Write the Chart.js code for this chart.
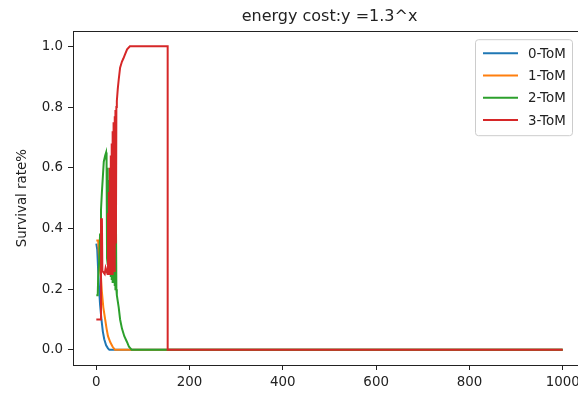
<!DOCTYPE html>
<html>
<head>
<meta charset="utf-8">
<title>energy cost</title>
<script src="https://cdn.jsdelivr.net/npm/chart.js@4/dist/chart.umd.min.js"></script>
<style>
    html, body { margin: 0; padding: 0; background: #fff; overflow: hidden; }
    #wrap { width: 578px; height: 393px; overflow: hidden; }
</style>
</head>
<body>
<div id="wrap"><canvas id="chart" width="600" height="393"></canvas></div>
<script>
// ==================== Daten ====================

const seriesLabels = ['0-ToM', '1-ToM', '2-ToM', '3-ToM'];

const tom0X = [0, 2, 4, 6, 8, 11, 14, 17, 21, 25, 28, 1000];
const tom0Y = [0.35, 0.33, 0.26, 0.2, 0.15, 0.1, 0.06, 0.035, 0.015, 0.005, 0, 0];

const tom1X = [0, 4, 6, 8, 10, 12, 15, 19, 22, 25, 30, 35, 40, 1000];
const tom1Y = [0.36, 0.36, 0.3, 0.26, 0.24, 0.19, 0.14, 0.1, 0.07, 0.045, 0.025, 0.01, 0, 0];

const tom2X = [0, 3, 4, 6, 8, 10, 12, 14, 16, 19, 21,
    22, 23, 24, 25, 26, 27, 28, 29, 30, 31, 32, 33, 34, 35, 36, 37, 38, 39, 40, 41, 42, 43, 44,
    48, 51, 55, 60, 66, 70, 76, 1000];
const tom2Y = [0.18, 0.18, 0.24, 0.29, 0.38, 0.46, 0.52, 0.57, 0.62, 0.64, 0.65,
    0.62, 0.3, 0.6, 0.28, 0.56, 0.27, 0.53, 0.25, 0.5, 0.24, 0.49, 0.23, 0.49, 0.22, 0.48, 0.22, 0.48, 0.21, 0.47, 0.2, 0.45, 0.2, 0.18,
    0.14, 0.1, 0.07, 0.045, 0.025, 0.01, 0, 0];

const tom3X = [0, 10, 10, 12, 13, 18, 20, 24,
    25, 26, 27, 28, 29, 30, 31, 32, 33, 34, 35, 36, 37, 38, 39, 40, 41, 42, 43, 44,
    46, 48, 51, 55, 58, 62, 66, 72, 153, 153, 1000];
const tom3Y = [0.1, 0.1, 0.43, 0.43, 0.26, 0.25, 0.27, 0.25,
    0.45, 0.25, 0.52, 0.26, 0.6, 0.25, 0.64, 0.27, 0.68, 0.25, 0.72, 0.28, 0.75, 0.26, 0.77, 0.3, 0.79, 0.35, 0.8, 0.82,
    0.86, 0.89, 0.93, 0.95, 0.96, 0.975, 0.99, 1.0, 1.0, 0, 0];

const xTicks = [0, 200, 400, 600, 800, 1000];
const yTicks = [0, 0.2, 0.4, 0.6, 0.8, 1.0];

// Farben (matplotlib tab10)
const COLORS = ['#1f77b4', '#ff7f0e', '#2ca02c', '#d62728'];
const AXIS_COLOR = '#222222';
const FONT = 'DejaVu Sans';

// ==================== Hilfsfunktionen ====================

function toPoints(xs, ys) {
    return xs.map((x, i) => ({ x: x, y: ys[i] }));
}

function buildDatasets() {
    const all = [[tom0X, tom0Y], [tom1X, tom1Y], [tom2X, tom2Y], [tom3X, tom3Y]];
    return all.map(([xs, ys], i) => ({
        label: seriesLabels[i],
        data: toPoints(xs, ys),
        borderColor: COLORS[i],
        backgroundColor: COLORS[i],
        borderWidth: 2,
        pointRadius: 0,
        fill: false,
        tension: 0,
        order: all.length - 1 - i   // letzte Serie oben
    }));
}

// Rahmen um den Plotbereich (alle vier Seiten wie in matplotlib)
const framePlugin = {
    id: 'frame',
    afterDatasetsDraw(chart) {
        const { ctx, chartArea: a } = chart;
        ctx.save();
        ctx.strokeStyle = AXIS_COLOR;
        ctx.lineWidth = 1;
        ctx.strokeRect(Math.round(a.left) + 0.5, Math.round(a.top) + 0.5,
            Math.round(a.right - a.left), Math.round(a.bottom - a.top));
        ctx.restore();
    }
};

// Legende oben rechts im Plotbereich
const legendPlugin = {
    id: 'boxLegend',
    afterDraw(chart) {
        const { ctx, chartArea: a } = chart;
        const right = a.right - 14;
        const top = a.top + 8;
        const w = 97, h = 96;
        const left = right - w;
        ctx.save();
        ctx.beginPath();
        ctx.roundRect(left + 0.5, top + 0.5, w, h, 3);
        ctx.fillStyle = 'rgba(255,255,255,0.85)';
        ctx.fill();
        ctx.strokeStyle = '#cccccc';
        ctx.lineWidth = 1;
        ctx.stroke();

        ctx.font = `13.4px "${FONT}"`;
        ctx.textBaseline = 'middle';
        ctx.textAlign = 'left';
        chart.data.datasets.forEach((ds, i) => {
            const y = top + 14 + i * 22.3;
            ctx.beginPath();
            ctx.moveTo(left + 8, y);
            ctx.lineTo(left + 43, y);
            ctx.strokeStyle = ds.borderColor;
            ctx.lineWidth = 2;
            ctx.stroke();
            ctx.fillStyle = AXIS_COLOR;
            ctx.fillText(ds.label, left + 53, y + 1);
        });
        ctx.restore();
    }
};

// ==================== Chart ====================

function init() {
    Chart.defaults.font.family = FONT;
    Chart.defaults.color = AXIS_COLOR;

    new Chart(document.getElementById('chart'), {
        type: 'line',
        data: { datasets: buildDatasets() },
        plugins: [framePlugin, legendPlugin],
        options: {
            responsive: false,
            animation: false,
            layout: { padding: { left: 0, right: 14, top: 0, bottom: 0 } },
            plugins: {
                legend: { display: false },
                tooltip: { enabled: false },
                title: {
                    display: true,
                    fullSize: false,   // über dem Plotbereich zentriert
                    text: 'energy cost:y =1.3^x',
                    color: AXIS_COLOR,
                    font: { size: 16, weight: 'normal' },
                    padding: { top: 7, bottom: 5 }
                }
            },
            scales: {
                x: {
                    type: 'linear',
                    min: -50,
                    max: 1050,
                    afterBuildTicks: (scale) => { scale.ticks = xTicks.map(v => ({ value: v })); },
                    afterFit: (scale) => { scale.height = 28; },
                    ticks: {
                        font: { size: 13.4 },
                        padding: 4,
                        maxRotation: 0,
                        callback: (v) => String(v)
                    },
                    grid: {
                        drawOnChartArea: false,
                        drawTicks: true,
                        tickLength: 5,
                        tickColor: AXIS_COLOR
                    },
                    border: { display: true, color: AXIS_COLOR, width: 1 }
                },
                y: {
                    type: 'linear',
                    min: -0.05,
                    max: 1.05,
                    afterBuildTicks: (scale) => { scale.ticks = yTicks.map(v => ({ value: v })); },
                    afterFit: (scale) => { scale.width = 73; },
                    ticks: {
                        font: { size: 13.4 },
                        padding: 5,
                        callback: (v) => Number(v).toFixed(1)
                    },
                    grid: {
                        drawOnChartArea: false,
                        drawTicks: true,
                        tickLength: 5,
                        tickColor: AXIS_COLOR
                    },
                    border: { display: true, color: AXIS_COLOR, width: 1 },
                    title: {
                        display: true,
                        text: 'Survival rate%',
                        color: AXIS_COLOR,
                        font: { size: 13.4 },
                        padding: { top: 14, bottom: 0 }
                    }
                }
            }
        }
    });
}

document.addEventListener('DOMContentLoaded', init);
</script>
</body>
</html>
